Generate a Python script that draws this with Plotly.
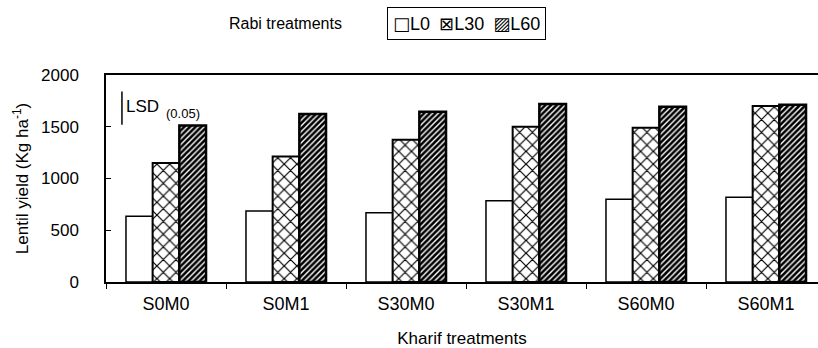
import plotly.graph_objects as go

categories = ["S0M0", "S0M1", "S30M0", "S30M1", "S60M0", "S60M1"]
series_names = ["L0", "L30", "L60"]
l0_values = [635, 685, 668, 785, 800, 820]
l30_values = [1150, 1212, 1375, 1500, 1490, 1700]
l60_values = [1512, 1622, 1645, 1720, 1693, 1712]
lsd_value = 320
lsd_top = 1840
y_ticks = [0, 500, 1000, 1500, 2000]
legend_glyphs = ["\u25A1", "\u22A0", "\u25A8"]

FONT = "Liberation Sans, Arial, sans-serif"

fig = go.Figure()
styles = [
    dict(shape="", lw=1.5),
    dict(shape="x", lw=2.0, size=9, solidity=0.25),
    dict(shape="/", lw=2.5, size=4, solidity=0.65),
]
for name, vals, st in zip(series_names, [l0_values, l30_values, l60_values], styles):
    pattern = dict(shape=st["shape"], fgcolor="black", bgcolor="white", fgopacity=1)
    if st["shape"]:
        pattern.update(size=st["size"], solidity=st["solidity"])
    fig.add_trace(go.Bar(
        x=categories, y=vals, name=name, showlegend=False,
        marker=dict(color="white", line=dict(color="black", width=st["lw"]),
                    pattern=pattern),
    ))

fig.update_layout(
    width=818, height=348,
    margin=dict(l=106, r=0, t=75, b=66),
    paper_bgcolor="white", plot_bgcolor="white",
    barmode="group", bargap=0.333, bargroupgap=0,
    font=dict(family=FONT, size=17, color="black"),
    showlegend=False,
    xaxis=dict(
        range=[-0.5, 5.5 - 8 / 120], type="category",
        showline=True, linecolor="black", linewidth=1.5, mirror=True,
        ticks="outside", ticklen=5, tickcolor="black", tickwidth=1,
        tickson="boundaries", showgrid=False, ticklabelstandoff=5,
        tickfont=dict(size=18),
        title=dict(text="Kharif treatments", font=dict(size=17), standoff=20),
    ),
    yaxis=dict(
        range=[0, 2000], tickvals=y_ticks,
        showline=True, linecolor="black", linewidth=1.5,
        ticks="inside", ticklen=5, tickcolor="black", tickwidth=1,
        showgrid=False, zeroline=False, tickfont=dict(size=17),
        ticklabelstandoff=22,
        title=dict(text="Lentil yield (Kg ha<sup>-1</sup>)", font=dict(size=17), standoff=8),
    ),
)

fig.add_shape(type="line", xref="x", yref="y",
              x0=-0.367, x1=-0.367, y0=lsd_top - lsd_value, y1=lsd_top,
              line=dict(color="black", width=1.5))
fig.add_annotation(x=-0.35, y=1695, xref="x", yref="y", xanchor="left", yanchor="middle",
                   text="LSD", showarrow=False, font=dict(size=17))
fig.add_annotation(x=-0.02, y=1630, xref="x", yref="y", xanchor="left", yanchor="middle",
                   text="(0.05)", showarrow=False, font=dict(size=13))
fig.add_annotation(x=(344 - 106) / 712, y=(282 - 23) / 207, xref="paper", yref="paper",
                   xanchor="right", yanchor="middle", text="Rabi treatments",
                   showarrow=False, font=dict(size=16))

legend_text = "".join(
    f"<span style='font-family:DejaVu Sans'>{'' if i == 0 else chr(0x2002)}{g}</span>{n}"
    for i, (g, n) in enumerate(zip(legend_glyphs, series_names))
)
fig.add_annotation(x=(466.5 - 106) / 712, y=(282 - 23) / 207, xref="paper", yref="paper",
                   xanchor="center", yanchor="middle", text=legend_text,
                   showarrow=False, font=dict(size=18),
                   bordercolor="black", borderwidth=1, borderpad=5, bgcolor="white")

fig.write_html("out.html")
